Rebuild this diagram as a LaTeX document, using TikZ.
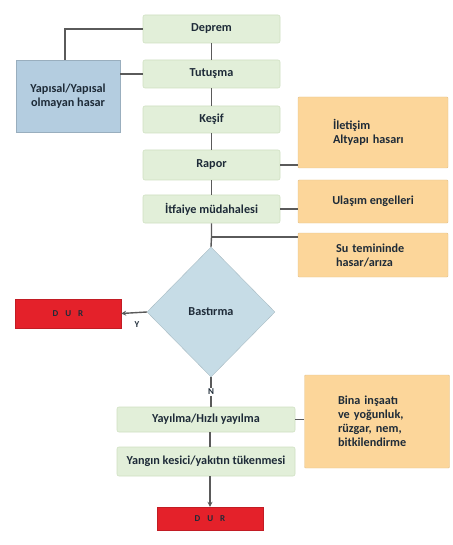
\documentclass[tikz,border=0pt]{standalone}
\usepackage{fontspec}
\setmainfont{Carlito}
\usetikzlibrary{shapes.geometric,arrows.meta}
\definecolor{gfill}{HTML}{E2EFD9}
\definecolor{gdraw}{HTML}{CFE0C2}
\definecolor{bfill}{HTML}{B4CDE0}
\definecolor{dfill}{HTML}{C6DCE6}
\definecolor{ofill}{HTML}{FCD69A}
\definecolor{rfill}{HTML}{E4212A}
\definecolor{txt}{HTML}{1E2B38}
\definecolor{ln}{HTML}{5A5A5A}
\tikzset{
  base/.style={font=\fontsize{12.2}{14}\selectfont\bfseries, text=txt, inner sep=1pt, align=center},
  gbox/.style={base, rectangle, rounded corners=2pt, fill=gfill, draw=gdraw, line width=0.6pt},
  bbox/.style={base, rectangle, fill=bfill, draw=bfill!85!black, line width=0.4pt},
  obox/.style={base, rectangle, rounded corners=1pt, fill=ofill, draw=ofill!90!black, line width=0.4pt},
  rbox/.style={base, rectangle, fill=rfill, draw=rfill!85!black, line width=0.4pt, font=\fontsize{9}{10}\selectfont\bfseries},
  dshape/.style={base, diamond, fill=dfill, draw=dfill!85!black, line width=0.4pt, inner sep=0pt},
  conn/.style={draw=ln, line width=1.4pt},
  arr/.style={conn, -{Stealth[length=5pt,width=5pt]}},
  lbl/.style={font=\fontsize{9}{10}\selectfont\bfseries, text=txt, inner sep=1pt}
}
\begin{document}
\begin{tikzpicture}[x=1pt,y=-1pt]
\useasboundingbox (0,0) rectangle (452,545);
% green chain
\node[gbox, minimum width=137pt, minimum height=28pt] (deprem) at (211.5,29) {Deprem};
\node[gbox, minimum width=137pt, minimum height=28pt] (tutusma) at (211.5,74) {Tutuşma};
\node[gbox, minimum width=137pt, minimum height=27pt] (kesif) at (211.5,119.5) {Keşif};
\node[gbox, minimum width=137pt, minimum height=30pt] (rapor) at (211.5,165) {Rapor};
\node[gbox, minimum width=137pt, minimum height=28pt] (itfaiye) at (211.5,209) {İtfaiye müdahalesi};
% blue box
\node[bbox, minimum width=104pt, minimum height=72pt] (yapisal) at (68,96) {Yapısal/Yapısal\\olmayan hasar};
% orange boxes
\node[obox, minimum width=150pt, minimum height=71pt, text width=80pt, align=left] (iletisim) at (373,132.5) {İletişim\\Altyapı hasarı};
\node[obox, minimum width=150pt, minimum height=43pt] (ulasim) at (373,201.5) {Ulaşım engelleri};
\node[obox, minimum width=150pt, minimum height=44pt, text width=74pt, align=left] (su) at (373,255) {Su temininde\\hasar/arıza};
% diamond
\node[dshape, minimum width=128pt, minimum height=130pt] (bastirma) at (211,312) {Bastırma};
% stops
\node[rbox, minimum width=106pt, minimum height=29pt] (dur1) at (68,313.5) {D\hspace{7pt}U\hspace{7pt}R};
\node[gbox, minimum width=178pt, minimum height=25pt] (yayilma) at (206,419.5) {Yayılma/Hızlı yayılma};
\node[gbox, minimum width=178pt, minimum height=29pt] (yangin) at (206,461.5) {Yangın kesici/yakıtın tükenmesi};
\node[obox, minimum width=145pt, minimum height=93pt, text width=78pt, align=left] (bina) at (377,421.5) {Bina inşaatı\\ve yoğunluk,\\rüzgar, nem,\\bitkilendirme};
\node[rbox, minimum width=106pt, minimum height=23pt] (dur2) at (210,518.5) {D\hspace{7pt}U\hspace{7pt}R};
% connectors
\draw[conn] (deprem) -- (tutusma);
\draw[conn] (tutusma) -- (kesif);
\draw[conn] (kesif) -- (rapor);
\draw[conn] (rapor) -- (itfaiye);
\coordinate (sp) at (211.5,237);
\draw[conn] (itfaiye.south) -- (sp) -- (bastirma.north);
\draw[conn] (sp) -- (sp -| su.west);
\draw[conn] (deprem.west) -| ([xshift=-3pt]yapisal.north);
\draw[conn] (tutusma.west) -- (tutusma.west -| yapisal.east);
\draw[conn] (rapor.east) -- (rapor.east -| iletisim.west);
\draw[conn] (itfaiye.east) -- (itfaiye.east -| ulasim.west);
\draw[arr] (bastirma.west) -- (dur1.east);
\node[lbl] (y) at (137,325) {Y};
\draw[conn] (bastirma.south) -- (bastirma.south |- yayilma.north) node[midway, lbl, fill=white] (n) {N};
\draw[conn] ([xshift=4pt]yayilma.south) -- ([xshift=4pt]yangin.north);
\draw[conn] (yayilma.east) -- (yayilma.east -| bina.west);
\draw[arr] (yangin.south -| dur2.north) -- (dur2.north);
\end{tikzpicture}
\end{document}
